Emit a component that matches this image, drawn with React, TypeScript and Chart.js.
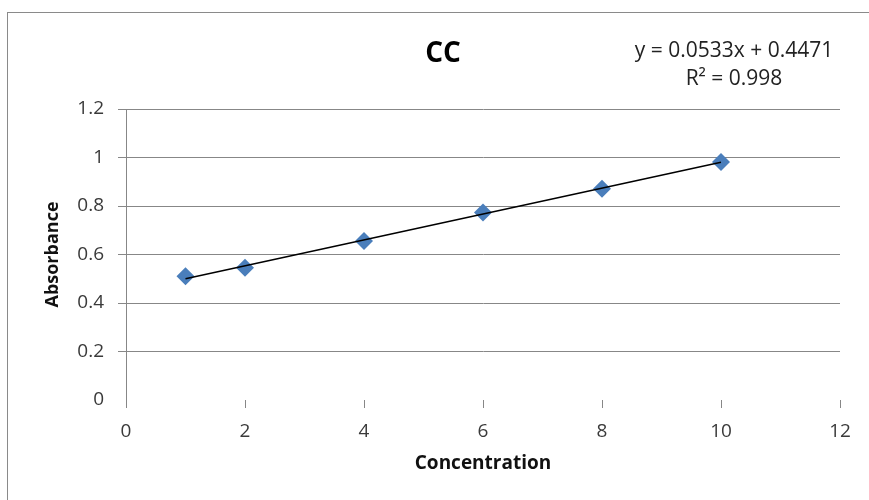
import React, { useEffect, useRef } from "react";
import { Chart, registerables } from "chart.js";

Chart.register(...registerables);

const concentrations = [1, 2, 4, 6, 8, 10];
const absorbances = [0.51, 0.545, 0.656, 0.773, 0.871, 0.981];
const trendX = [1, 10];
const trendY = [0.5004, 0.9801];
const chartTitle = "CC";
const equationLines = ["y = 0.0533x + 0.4471", "R² = 0.998"];
const xTitle = "Concentration";
const yTitle = "Absorbance";

const FONT = "'Open Sans', 'Liberation Sans', sans-serif";
const GRID = "#878787";

export default function App() {
  const ref = useRef<HTMLCanvasElement | null>(null);

  useEffect(() => {
    if (!ref.current) return;
    const overlay = {
      id: "overlay",
      afterDraw(chart: any) {
        const ctx = chart.ctx;
        ctx.save();
        ctx.fillStyle = "#000";
        ctx.textAlign = "center";
        ctx.textBaseline = "middle";
        ctx.font = `bold 28px ${FONT}`;
        ctx.fillText(chartTitle, 443, 54);
        ctx.fillStyle = "#222";
        ctx.font = `21px ${FONT}`;
        ctx.fillText(equationLines[0], 734, 51);
        ctx.fillText(equationLines[1], 734, 79);
        ctx.restore();
      },
    };
    const chart = new Chart(ref.current, {
      type: "scatter",
      data: {
        datasets: [
          {
            type: "line",
            label: "Trend",
            data: trendX.map((x, i) => ({ x, y: trendY[i] })),
            borderColor: "#000",
            borderWidth: 1.5,
            pointRadius: 0,
            fill: false,
            order: 0,
          },
          {
            label: "CC",
            data: concentrations.map((x, i) => ({ x, y: absorbances[i] })),
            pointStyle: "rectRot",
            pointRadius: 9,
            backgroundColor: "#4a7ebb",
            borderColor: "#4a7ebb",
            borderWidth: 0,
            order: 1,
          },
        ],
      },
      options: {
        responsive: false,
        animation: false,
        devicePixelRatio: 1,
        layout: { padding: { top: 109, right: 29, left: 0, bottom: 0 } },
        plugins: {
          legend: { display: false },
          tooltip: { enabled: false },
          title: { display: false },
        },
        scales: {
          x: {
            type: "linear",
            min: 0,
            max: 12,
            afterFit: (s: any) => {
              s.height = 100;
            },
            ticks: {
              stepSize: 2,
              padding: 12,
              color: "#3a3a3a",
              font: { family: FONT, size: 19 },
            },
            grid: {
              drawOnChartArea: false,
              drawTicks: true,
              tickLength: 8,
              color: GRID,
            },
            border: { display: false },
            title: {
              display: true,
              text: xTitle,
              color: "#111",
              font: { family: FONT, size: 19, weight: "bold" },
              padding: { top: 0, bottom: 25 },
            },
          },
          y: {
            type: "linear",
            min: 0,
            max: 1.2,
            afterFit: (s: any) => {
              s.width = 126;
            },
            ticks: {
              stepSize: 0.2,
              padding: 14,
              color: "#3a3a3a",
              font: { family: FONT, size: 19 },
              callback: (v: any) => String(Math.round(Number(v) * 10) / 10),
            },
            grid: {
              tickLength: 8,
              color: (c: any) => (c.tick && c.tick.value === 0 ? "rgba(0,0,0,0)" : GRID),
            },
            border: { display: true, color: GRID },
            title: {
              display: true,
              text: yTitle,
              color: "#111",
              font: { family: FONT, size: 18, weight: "bold" },
              padding: { top: 42, bottom: 0 },
            },
          },
        },
      },
      plugins: [overlay],
    });
    return () => chart.destroy();
  }, []);

  return (
    <div style={{ position: "fixed", left: 0, top: 0, width: 869, height: 500, background: "#fff" }}>
      <div
        style={{
          position: "absolute",
          left: 7,
          top: 12,
          width: 900,
          height: 520,
          borderTop: "1px solid #8a8a8a",
          borderLeft: "1px solid #8a8a8a",
        }}
      />
      <canvas ref={ref} width={869} height={500} style={{ position: "absolute", left: 0, top: 0 }} />
    </div>
  );
}
